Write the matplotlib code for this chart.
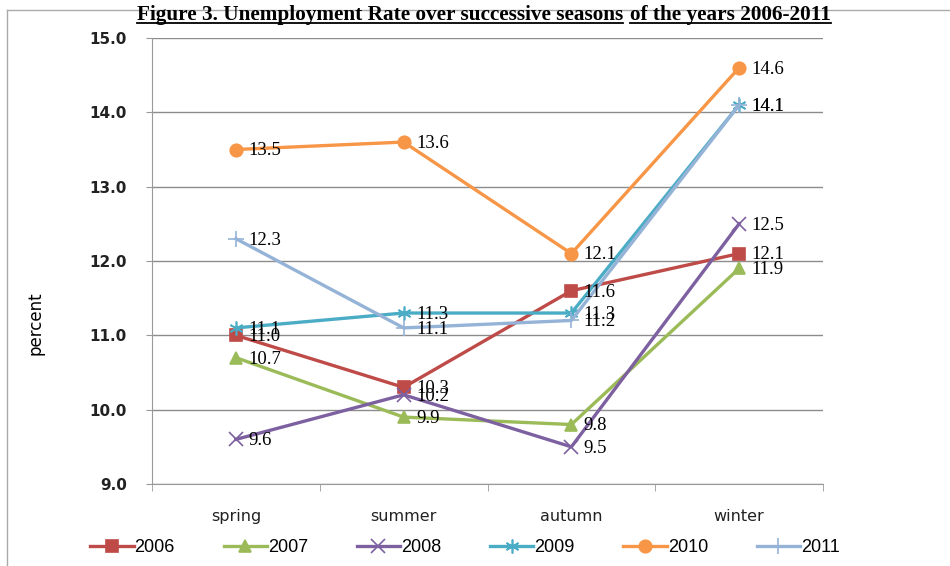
import matplotlib
matplotlib.use("Agg")
import matplotlib.pyplot as plt
from matplotlib.lines import Line2D

seasons = ["spring", "summer", "autumn", "winter"]
years = ["2006", "2007", "2008", "2009", "2010", "2011"]
rate_2006 = [11.0, 10.3, 11.6, 12.1]
rate_2007 = [10.7, 9.9, 9.8, 11.9]
rate_2008 = [9.6, 10.2, 9.5, 12.5]
rate_2009 = [11.1, 11.3, 11.3, 14.1]
rate_2010 = [13.5, 13.6, 12.1, 14.6]
rate_2011 = [12.3, 11.1, 11.2, 14.1]
all_rates = [rate_2006, rate_2007, rate_2008, rate_2009, rate_2010, rate_2011]

colors = ["#BE4B48", "#9BBB59", "#7D60A0", "#4BACC6", "#F79646", "#95B3D7"]
markers = ["s", "^", "x", (6, 2, 0), "o", "+"]
msizes = [9, 9, 10, 10, 9, 11]

fig = plt.figure(figsize=(9.5, 5.66), dpi=100)
ax = fig.add_axes([152 / 950, 1 - 484 / 566, (823 - 152) / 950, (484 - 38) / 566])

x = list(range(len(seasons)))
for yr, vals, c, m, ms in zip(years, all_rates, colors, markers, msizes):
    ax.plot(x, vals, color=c, lw=2.4, marker=m, markersize=ms,
            markeredgewidth=1.2, label=yr)
    for xi, v in zip(x, vals):
        ax.annotate("%.1f" % v, (xi, v), xytext=(9, -1), textcoords="offset points",
                    ha="left", va="center", fontsize=13.5,
                    family="Liberation Serif", color="black")

ax.set_xlim(-0.5, 3.5)
ax.set_ylim(9.0, 15.0)
ax.set_yticks([9, 10, 11, 12, 13, 14, 15])
ax.set_yticklabels(["%.1f" % v for v in range(9, 16)], fontsize=11,
                   fontweight="bold", family="DejaVu Sans", color="#222222")
ax.set_xticks(x)
ax.set_xticklabels(seasons, fontsize=11.5, family="DejaVu Sans", color="#222222")
ax.set_xticks([-0.5, 0.5, 1.5, 2.5, 3.5], minor=True)
ax.tick_params(axis="x", which="major", length=0, pad=18)
ax.tick_params(axis="x", which="minor", length=5, color="#999999")
ax.tick_params(axis="y", length=4, color="#999999", pad=14)
ax.grid(axis="y", color="#8c8c8c", lw=1)
ax.set_axisbelow(True)
for s in ["top", "right"]:
    ax.spines[s].set_visible(False)
ax.spines["left"].set_color("#999999")
ax.spines["bottom"].set_color("#999999")
ax.set_ylabel("percent", fontsize=12, family="DejaVu Sans")
ax.yaxis.set_label_coords(-0.16, 0.36)

fig.legend(loc="center", bbox_to_anchor=(465 / 950, 1 - 548 / 566), ncol=6,
           frameon=False, handlelength=2.4, handletextpad=0.05, columnspacing=2.7,
           prop={"family": "Liberation Sans", "size": 13})

# title with underline on both parts
part1 = "Figure 3. Unemployment Rate over successive seasons"
part2 = "of the years 2006-2011"
ty = 1 - 15 / 566
t1 = fig.text(137 / 950, ty, part1, ha="left", va="center", fontsize=15.3,
              fontweight="bold", family="Liberation Serif")
fig.canvas.draw()
r = fig.canvas.get_renderer()
b1 = t1.get_window_extent(r)
t2 = fig.text((b1.x1 + 7) / 950, ty, part2, ha="left", va="center", fontsize=15.3,
              fontweight="bold", family="Liberation Serif")
fig.canvas.draw()
b2 = t2.get_window_extent(r)
uy = (b1.y0 + 2) / 566
fig.add_artist(Line2D([b1.x0 / 950, b1.x1 / 950], [uy, uy], color="black", lw=1.3))
fig.add_artist(Line2D([b2.x0 / 950, b2.x1 / 950], [uy, uy], color="black", lw=1.3))

# outer border of the chart area
fig.add_artist(Line2D([7 / 950, 1], [1 - 10 / 566, 1 - 10 / 566], color="#aaaaaa", lw=1, zorder=0))
fig.add_artist(Line2D([7 / 950, 7 / 950], [0, 1 - 10 / 566], color="#aaaaaa", lw=1, zorder=0))

fig.savefig("out.png", dpi=100)
